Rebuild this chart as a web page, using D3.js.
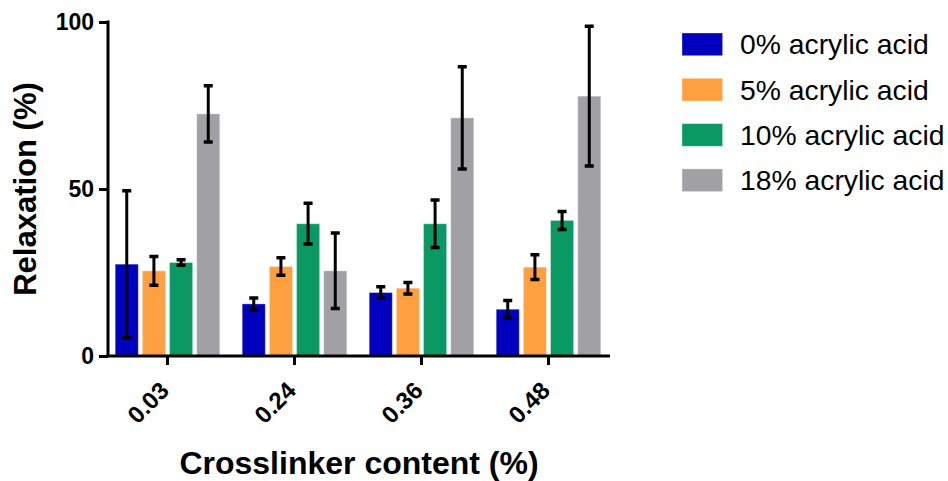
<!DOCTYPE html>
<html>
<head>
<meta charset="utf-8">
<script src="https://cdn.jsdelivr.net/npm/d3@7"></script>
<style>
  html, body { margin: 0; padding: 0; background: #fff; }
  svg { display: block; font-family: "Liberation Sans", Arial, sans-serif; }
</style>
</head>
<body>
<svg id="chart" width="948" height="481"></svg>
<script>
// ---- data ----
const categories = ["0.03", "0.24", "0.36", "0.48"];
const seriesNames = ["0% acrylic acid", "5% acrylic acid", "10% acrylic acid", "18% acrylic acid"];
const seriesColors = ["#0000BF", "#FFA040", "#0A9962", "#A1A1A5"];
// mean values per series (one value per category)
const acid0  = [27.5, 15.6, 19.0, 14.0];
const acid5  = [25.5, 26.8, 20.3, 26.6];
const acid10 = [28.0, 39.6, 39.6, 40.6];
const acid18 = [72.5, 25.5, 71.3, 77.8];
// error (± SD) per series
const err0  = [22.0, 1.8, 1.7, 2.6];
const err5  = [4.3, 2.6, 1.7, 3.7];
const err10 = [0.8, 6.1, 7.1, 2.7];
const err18 = [8.4, 11.3, 15.3, 20.9];
const yTicks = [0, 50, 100];
const xTitle = "Crosslinker content (%)";
const yTitle = "Relaxation (%)";

const values = [acid0, acid5, acid10, acid18];
const errors = [err0, err5, err10, err18];
const rows = [];
categories.forEach((c, ci) => {
  seriesNames.forEach((s, si) => {
    rows.push({cat: c, series: s, si, v: values[si][ci], e: errors[si][ci]});
  });
});

// ---- layout ----
const svg = d3.select("#chart");
const axisX = 108, axisRight = 610;
const yTop = 22, yBottom = 356;

const x = d3.scaleBand().domain(categories).range([104, 612]).padding(0);
const inner = d3.scaleBand().domain(seriesNames).range([-52.3, 52.3]).paddingInner(0.15).paddingOuter(0);
const y = d3.scaleLinear().domain([0, 100]).range([yBottom, yTop]);
const color = d3.scaleOrdinal().domain(seriesNames).range(seriesColors);

// bars
const bars = svg.append("g");
bars.selectAll("rect").data(rows).join("rect")
  .attr("x", d => x(d.cat) + x.bandwidth() / 2 + inner(d.series))
  .attr("width", inner.bandwidth())
  .attr("y", d => y(d.v))
  .attr("height", d => y(0) - y(d.v))
  .attr("fill", d => color(d.series))
  .attr("stroke", "#ffffff")
  .attr("stroke-opacity", 0.35)
  .attr("stroke-width", 1);

// error bars
const eb = svg.append("g").attr("stroke", "#000").attr("fill", "none");
const cx = d => x(d.cat) + x.bandwidth() / 2 + inner(d.series) + inner.bandwidth() / 2;
const capW = 4.5;
eb.selectAll("path.stem").data(rows).join("path").attr("class", "stem")
  .attr("stroke-width", 3)
  .attr("d", d => `M${cx(d)},${y(d.v + d.e)}V${y(Math.max(0, d.v - d.e))}`);
eb.selectAll("path.cap").data(rows).join("path").attr("class", "cap")
  .attr("stroke-width", 3.5)
  .attr("d", d => {
    const c = cx(d), t = y(d.v + d.e), b = y(Math.max(0, d.v - d.e));
    return `M${c - capW},${t}H${c + capW}M${c - capW},${b}H${c + capW}`;
  });

// y axis
const yAxis = d3.axisLeft(y).tickValues(yTicks).tickSize(9).tickSizeOuter(0).tickPadding(5);
const gy = svg.append("g").attr("transform", `translate(${axisX},0)`).call(yAxis);
gy.select(".domain").attr("stroke-width", 3).attr("d", `M0,${yTop - 1.5}V${yBottom}`);
gy.selectAll(".tick line").attr("stroke-width", 3);
gy.selectAll(".tick text").attr("font-size", 23).attr("font-weight", "bold")
  .attr("font-family", "Liberation Sans, Arial, sans-serif").attr("fill", "#000");

// x axis
const xAxis = d3.axisBottom(x).tickSize(9).tickSizeOuter(0);
const gx = svg.append("g").attr("transform", `translate(0,${yBottom})`).call(xAxis);
gx.select(".domain").attr("stroke-width", 3).attr("d", `M${axisX - 1.5},0H${axisRight}`);
gx.selectAll(".tick line").attr("stroke-width", 3);
gx.selectAll(".tick text")
  .attr("font-size", 24).attr("font-weight", "bold")
  .attr("font-family", "Liberation Sans, Arial, sans-serif").attr("fill", "#000")
  .attr("x", 0).attr("y", 0).attr("dy", null)
  .attr("text-anchor", "end")
  .attr("transform", "translate(3,36) rotate(-45)");

// axis titles
svg.append("text")
  .attr("x", (axisX + axisRight) / 2).attr("y", 474)
  .attr("text-anchor", "middle").attr("font-size", 32).attr("font-weight", "bold")
  .text(xTitle);
svg.append("text")
  .attr("transform", `translate(36,${(yTop + yBottom) / 2}) rotate(-90)`)
  .attr("text-anchor", "middle").attr("font-size", 31).attr("font-weight", "bold")
  .text(yTitle);

// legend
const leg = svg.append("g").attr("transform", "translate(682,33)");
const li = leg.selectAll("g").data(seriesNames).join("g")
  .attr("transform", (d, i) => `translate(0,${i * 45.3})`);
li.append("rect").attr("width", 40.6).attr("height", 22.7).attr("fill", d => color(d))
  .attr("stroke", "#fff").attr("stroke-opacity", 0.35).attr("stroke-width", 1);
li.append("text").attr("x", 58).attr("y", 21.3).attr("font-size", 28.3).attr("fill", "#000").text(d => d);
</script>
</body>
</html>
